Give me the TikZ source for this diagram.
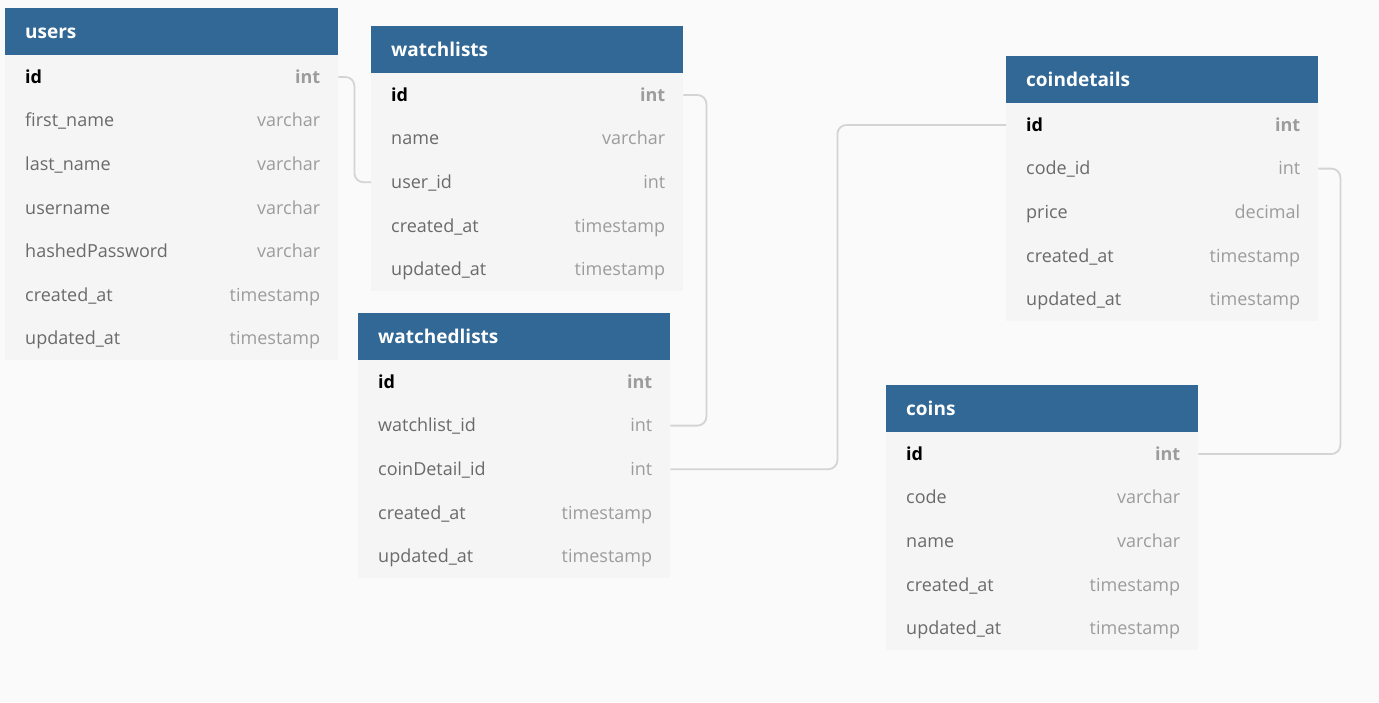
\documentclass[tikz,border=0pt]{standalone}
\usepackage{fontspec}
\setmainfont{Open Sans}
\definecolor{bgc}{HTML}{FAFAFA}
\definecolor{hdrblue}{HTML}{326896}
\definecolor{rowc}{HTML}{F5F5F5}
\definecolor{fldc}{HTML}{6A6A6A}
\definecolor{typc}{HTML}{9C9C9C}
\definecolor{connc}{HTML}{D4D4D4}
\tikzset{
  hdr/.style={draw=none, fill=hdrblue, inner sep=0pt, minimum height=47pt},
  hdrtxt/.style={text=white, font=\fontsize{19}{22}\selectfont\bfseries, inner sep=0pt},
  rowbox/.style={draw=none, fill=rowc, inner sep=0pt, minimum height=43.6pt},
  fldtxt/.style={text=fldc, font=\fontsize{18}{21}\selectfont, inner sep=0pt},
  typtxt/.style={text=typc, font=\fontsize{18}{21}\selectfont, inner sep=0pt},
  keytxt/.style={text=black, font=\fontsize{18}{21}\selectfont\bfseries, inner sep=0pt},
  keytyp/.style={text=typc, font=\fontsize{18}{21}\selectfont\bfseries, inner sep=0pt},
  conn/.style={draw=connc, line width=1.8pt, rounded corners=9pt},
}
\newcommand{\erdtable}[6]{%
  \node[hdr, minimum width=#4, anchor=north west] (#1) at (#2,#3) {};
  \node[hdrtxt, anchor=base west] (#1-title) at ([xshift=20pt,yshift=-6.5pt]#1.west) {#5};
  \foreach \fld/\typ [count=\i] in {#6} {%
    \node[rowbox, minimum width=#4, anchor=north west] (#1-\i) at (#2,{#3+47+(\i-1)*43.6}) {};
    \ifnum\i=1
      \node[keytxt, anchor=base west] (#1-\i-n) at ([xshift=20pt,yshift=-6.3pt]#1-\i.west) {\fld};
      \node[keytyp, anchor=base east] (#1-\i-t) at ([xshift=-18pt,yshift=-6.3pt]#1-\i.east) {\typ};
    \else
      \node[fldtxt, anchor=base west] (#1-\i-n) at ([xshift=20pt,yshift=-6.3pt]#1-\i.west) {\fld};
      \node[typtxt, anchor=base east] (#1-\i-t) at ([xshift=-18pt,yshift=-6.3pt]#1-\i.east) {\typ};
    \fi
  }%
}
\begin{document}
\begin{tikzpicture}[x=1pt,y=-1pt]
\useasboundingbox[fill=bgc] (0,0) rectangle (1379,702);
\erdtable{users}{5}{8}{333}{users}{id/int, first\_name/varchar, last\_name/varchar, username/varchar, hashedPassword/varchar, created\_at/timestamp, updated\_at/timestamp}
\erdtable{watchlists}{371}{26}{312}{watchlists}{id/int, name/varchar, user\_id/int, created\_at/timestamp, updated\_at/timestamp}
\erdtable{watchedlists}{358}{313}{312}{watchedlists}{id/int, watchlist\_id/int, coinDetail\_id/int, created\_at/timestamp, updated\_at/timestamp}
\erdtable{coindetails}{1006}{56}{312}{coindetails}{id/int, code\_id/int, price/decimal, created\_at/timestamp, updated\_at/timestamp}
\erdtable{coins}{886}{385}{312}{coins}{id/int, code/varchar, name/varchar, created\_at/timestamp, updated\_at/timestamp}
\draw[conn] (users-1.east) -- ++(16,0) |- (watchlists-3.west);
\draw[conn] (watchlists-1.east) -- ++(23,0) |- (watchedlists-2.east);
\draw[conn] (watchedlists-3.east) -- ++(167,0) |- (coindetails-1.west);
\draw[conn] (coindetails-2.east) -- ++(22,0) |- (coins-1.east);
\end{tikzpicture}
\end{document}
